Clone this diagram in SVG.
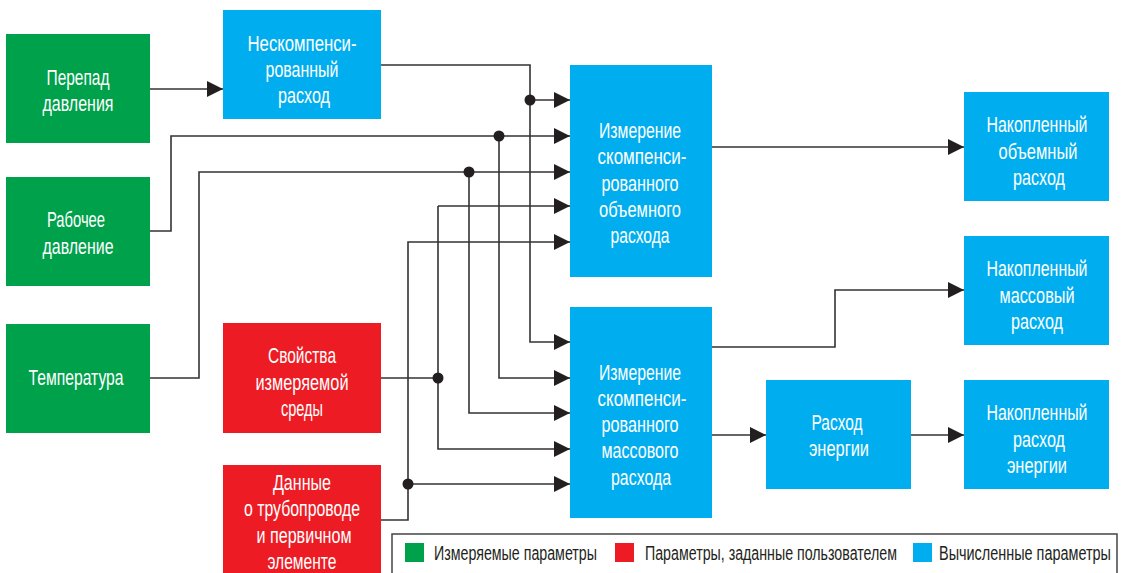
<svg xmlns="http://www.w3.org/2000/svg" width="1122" height="573" viewBox="0 0 1122 573">
<style>
.g{fill:#00A14B}.r{fill:#ED1C24}.b{fill:#00AEEF}
.t{font-family:"Liberation Sans",Arial,sans-serif;font-size:22.5px;fill:#fff;text-anchor:middle}
.c{fill:none;stroke:#333;stroke-width:1.6}
.d{fill:#231F20}
.lg{font-family:"Liberation Sans",Arial,sans-serif;font-size:19.5px;fill:#231F20}
</style>
<defs>
<marker id="a" markerWidth="16" markerHeight="16" viewBox="0 0 16 16" refX="16" refY="8" orient="auto" markerUnits="userSpaceOnUse">
<path d="M0,0L16,8L0,16Z" fill="#231F20"/>
</marker>
</defs>
<rect width="1122" height="573" fill="#fff"/>
<g id="connectors" class="c" marker-end="url(#a)">
<path d="M150,89H223"/>
<path d="M381,65H530V342H570"/>
<path d="M530,100H570"/>
<path d="M150,231H171V136H570"/>
<path d="M499,136V378H570"/>
<path d="M150,378H199V172H570"/>
<path d="M469,172V413H570"/>
<path d="M381,378H438" marker-end="none"/>
<path d="M438,206H570"/>
<path d="M438,206V449H570"/>
<path d="M381,520H408V242H570"/>
<path d="M408,484H570"/>
<path d="M712,147H964"/>
<path d="M712,347H835V290H964"/>
<path d="M712,435H766"/>
<path d="M911,435H964"/>
</g>
<g id="dots" class="d">
<circle cx="530" cy="100" r="5.5"/>
<circle cx="499" cy="136" r="5.5"/>
<circle cx="469" cy="172" r="5.5"/>
<circle cx="438" cy="378" r="5.5"/>
<circle cx="408" cy="484" r="5.5"/>
</g>
<g id="perepad"><rect class="g" x="6" y="34" width="144" height="109"/>
<text class="t" x="78" y="85" textLength="63" lengthAdjust="spacingAndGlyphs">Перепад</text>
<text class="t" x="78" y="111" textLength="71" lengthAdjust="spacingAndGlyphs">давления</text></g>
<g id="rabochee"><rect class="g" x="6" y="177" width="144" height="109"/>
<text class="t" x="76" y="227" textLength="58" lengthAdjust="spacingAndGlyphs">Рабочее</text>
<text class="t" x="78" y="254" textLength="71" lengthAdjust="spacingAndGlyphs">давление</text></g>
<g id="temp"><rect class="g" x="6" y="324" width="144" height="109"/>
<text class="t" x="76" y="385" textLength="95" lengthAdjust="spacingAndGlyphs">Температура</text></g>
<g id="neskomp"><rect class="b" x="223" y="10" width="158" height="109"/>
<text class="t" x="302" y="51" textLength="109" lengthAdjust="spacingAndGlyphs">Нескомпенси-</text>
<text class="t" x="302" y="77" textLength="73" lengthAdjust="spacingAndGlyphs">рованный</text>
<text class="t" x="304" y="103" textLength="52" lengthAdjust="spacingAndGlyphs">расход</text></g>
<g id="svoistva"><rect class="r" x="223" y="323" width="158" height="110"/>
<text class="t" x="302" y="363" textLength="68" lengthAdjust="spacingAndGlyphs">Свойства</text>
<text class="t" x="302" y="390" textLength="93" lengthAdjust="spacingAndGlyphs">измеряемой</text>
<text class="t" x="302" y="416" textLength="42" lengthAdjust="spacingAndGlyphs">среды</text></g>
<g id="dannye"><rect class="r" x="223" y="465" width="158" height="110"/>
<text class="t" x="302" y="490" textLength="58" lengthAdjust="spacingAndGlyphs">Данные</text>
<text class="t" x="302" y="516" textLength="116" lengthAdjust="spacingAndGlyphs">о трубопроводе</text>
<text class="t" x="304" y="543" textLength="95" lengthAdjust="spacingAndGlyphs">и первичном</text>
<text class="t" x="302" y="569" textLength="69" lengthAdjust="spacingAndGlyphs">элементе</text></g>
<g id="izm-vol"><rect class="b" x="570" y="65" width="142" height="212"/>
<text class="t" x="640" y="138" textLength="82" lengthAdjust="spacingAndGlyphs">Измерение</text>
<text class="t" x="642" y="164" textLength="89" lengthAdjust="spacingAndGlyphs">скомпенси-</text>
<text class="t" x="640" y="191" textLength="77" lengthAdjust="spacingAndGlyphs">рованного</text>
<text class="t" x="640" y="217" textLength="82" lengthAdjust="spacingAndGlyphs">объемного</text>
<text class="t" x="640" y="243" textLength="59" lengthAdjust="spacingAndGlyphs">расхода</text></g>
<g id="izm-mass"><rect class="b" x="570" y="307" width="142" height="211"/>
<text class="t" x="640" y="380" textLength="82" lengthAdjust="spacingAndGlyphs">Измерение</text>
<text class="t" x="642" y="406" textLength="89" lengthAdjust="spacingAndGlyphs">скомпенси-</text>
<text class="t" x="640" y="432" textLength="77" lengthAdjust="spacingAndGlyphs">рованного</text>
<text class="t" x="640" y="458" textLength="77" lengthAdjust="spacingAndGlyphs">массового</text>
<text class="t" x="641" y="485" textLength="60" lengthAdjust="spacingAndGlyphs">расхода</text></g>
<g id="nak-vol"><rect class="b" x="964" y="92" width="145" height="109"/>
<text class="t" x="1037" y="132" textLength="101" lengthAdjust="spacingAndGlyphs">Накопленный</text>
<text class="t" x="1038" y="159" textLength="79" lengthAdjust="spacingAndGlyphs">объемный</text>
<text class="t" x="1039" y="185" textLength="52" lengthAdjust="spacingAndGlyphs">расход</text></g>
<g id="nak-mass"><rect class="b" x="964" y="236" width="145" height="109"/>
<text class="t" x="1037" y="276" textLength="101" lengthAdjust="spacingAndGlyphs">Накопленный</text>
<text class="t" x="1037" y="303" textLength="75" lengthAdjust="spacingAndGlyphs">массовый</text>
<text class="t" x="1037" y="329" textLength="52" lengthAdjust="spacingAndGlyphs">расход</text></g>
<g id="energy"><rect class="b" x="766" y="380" width="145" height="109"/>
<text class="t" x="837" y="430" textLength="51" lengthAdjust="spacingAndGlyphs">Расход</text>
<text class="t" x="839" y="456" textLength="60" lengthAdjust="spacingAndGlyphs">энергии</text></g>
<g id="nak-energy"><rect class="b" x="964" y="380" width="145" height="109"/>
<text class="t" x="1037" y="420" textLength="101" lengthAdjust="spacingAndGlyphs">Накопленный</text>
<text class="t" x="1039" y="447" textLength="52" lengthAdjust="spacingAndGlyphs">расход</text>
<text class="t" x="1037" y="473" textLength="60" lengthAdjust="spacingAndGlyphs">энергии</text></g>
<g id="legend">
<rect x="392" y="534" width="725" height="45" fill="#fff" stroke="#444" stroke-width="1.5"/>
<rect class="g" x="405" y="543" width="19" height="19"/>
<text class="lg" x="434" y="560" textLength="163" lengthAdjust="spacingAndGlyphs">Измеряемые параметры</text>
<rect class="r" x="615" y="543" width="19" height="19"/>
<text class="lg" x="645" y="560" textLength="252" lengthAdjust="spacingAndGlyphs">Параметры, заданные пользователем</text>
<rect class="b" x="913" y="543" width="19" height="19"/>
<text class="lg" x="939" y="560" textLength="172" lengthAdjust="spacingAndGlyphs">Вычисленные параметры</text>
</g>
</svg>
